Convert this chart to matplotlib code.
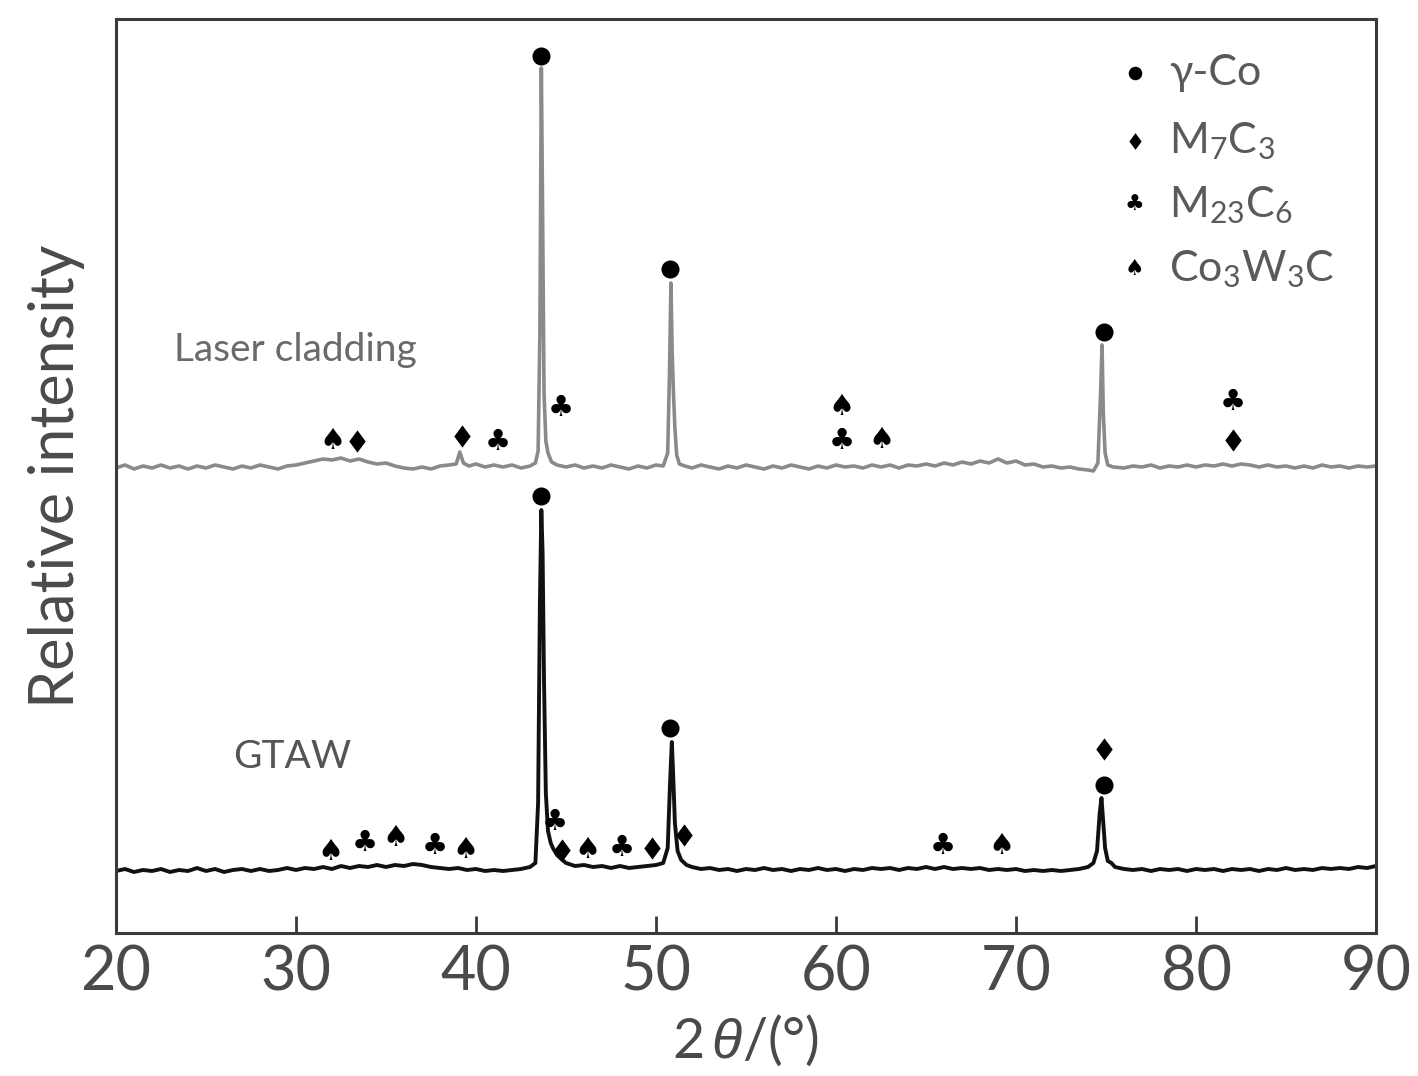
import matplotlib
matplotlib.use("Agg")
import matplotlib.pyplot as plt
from matplotlib.path import Path

# ---------------- data ----------------
laser_2theta = [20.0, 20.5, 21.0, 21.5, 22.0, 22.5, 23.0, 23.5, 24.0, 24.5, 25.0, 25.5, 26.0, 26.5,
                27.0, 27.5, 28.0, 28.5, 29.0, 29.5, 30.0, 30.5, 31.0, 31.5, 32.0, 32.5, 33.0, 33.5,
                34.0, 34.5, 35.0, 35.5, 36.0, 36.5, 37.0, 37.5, 38.0, 38.5, 38.9, 39.1, 39.3, 39.6,
                40.0, 40.5, 41.0, 41.5, 42.0, 42.5, 43.0, 43.3, 43.45, 43.55, 43.63, 43.7, 43.78,
                43.88, 44.0, 44.2, 44.5, 45.0, 45.5, 46.0, 46.5, 47.0, 47.5, 48.0, 48.5, 49.0, 49.5,
                50.0, 50.4, 50.65, 50.75, 50.83, 50.9, 50.97, 51.05, 51.15, 51.3, 51.6, 52.0, 52.5,
                53.0, 53.5, 54.0, 54.5, 55.0, 55.5, 56.0, 56.5, 57.0, 57.5, 58.0, 58.5, 59.0, 59.5,
                60.0, 60.5, 61.0, 61.5, 62.0, 62.5, 63.0, 63.5, 64.0, 64.5, 65.0, 65.5, 66.0, 66.5,
                67.0, 67.5, 68.0, 68.5, 69.0, 69.5, 70.0, 70.5, 71.0, 71.5, 72.0, 72.5, 73.0, 73.5,
                74.0, 74.3, 74.55, 74.7, 74.78, 74.85, 74.95, 75.1, 75.4, 76.0, 76.5, 77.0, 77.5,
                78.0, 78.5, 79.0, 79.5, 80.0, 80.5, 81.0, 81.5, 82.0, 82.5, 83.0, 83.5, 84.0, 84.5,
                85.0, 85.5, 86.0, 86.5, 87.0, 87.5, 88.0, 88.5, 89.0, 89.5, 90.0]
laser_int = [465, 468, 464, 467, 465, 468, 465, 467, 464, 467, 465, 468, 466, 464,
             467, 465, 468, 466, 464, 467, 468, 470, 472, 474, 473, 475, 472, 474,
             471, 469, 470, 467, 465, 464, 466, 464, 467, 468, 469, 481, 470, 467,
             469, 466, 468, 466, 468, 465, 467, 470, 482, 600, 865, 720, 540,
             492, 480, 471, 468, 466, 468, 465, 467, 465, 468, 466, 464, 467, 465,
             468, 467, 480, 560, 650, 580, 540, 505, 478, 469, 467, 465, 468,
             466, 464, 467, 465, 468, 466, 464, 467, 465, 468, 466, 464, 467, 465,
             468, 466, 467, 465, 468, 466, 468, 465, 468, 467, 469, 467, 470, 468,
             471, 469, 472, 470, 474, 470, 472, 468, 469, 466, 467, 465, 466, 464,
             463, 462, 470, 540, 588, 520, 480, 468, 466, 465, 467, 466, 468,
             465, 467, 466, 468, 466, 468, 467, 469, 467, 469, 468, 466, 468, 466,
             467, 465, 467, 465, 468, 466, 467, 465, 467, 466, 467]

gtaw_2theta = [20.0, 20.5, 21.0, 21.5, 22.0, 22.5, 23.0, 23.5, 24.0, 24.5, 25.0, 25.5, 26.0, 26.5,
               27.0, 27.5, 28.0, 28.5, 29.0, 29.5, 30.0, 30.5, 31.0, 31.5, 32.0, 32.5, 33.0, 33.5,
               34.0, 34.5, 35.0, 35.5, 36.0, 36.5, 37.0, 37.5, 38.0, 38.5, 39.0, 39.5, 40.0, 40.5,
               41.0, 41.5, 42.0, 42.5, 43.0, 43.3, 43.45, 43.55, 43.63, 43.7, 43.78, 43.88, 44.0,
               44.15, 44.3, 44.5, 44.8, 45.0, 45.5, 46.0, 46.5, 47.0, 47.5, 48.0, 48.5, 49.0, 49.5,
               50.0, 50.4, 50.65, 50.78, 50.88, 50.95, 51.05, 51.2, 51.4, 51.7, 52.0, 52.5, 53.0,
               53.5, 54.0, 54.5, 55.0, 55.5, 56.0, 56.5, 57.0, 57.5, 58.0, 58.5, 59.0, 59.5, 60.0,
               60.5, 61.0, 61.5, 62.0, 62.5, 63.0, 63.5, 64.0, 64.5, 65.0, 65.5, 66.0, 66.5, 67.0,
               67.5, 68.0, 68.5, 69.0, 69.5, 70.0, 70.5, 71.0, 71.5, 72.0, 72.5, 73.0, 73.5, 74.0,
               74.3, 74.5, 74.65, 74.75, 74.85, 74.95, 75.1, 75.3, 75.5, 76.0, 76.5, 77.0, 77.5,
               78.0, 78.5, 79.0, 79.5, 80.0, 80.5, 81.0, 81.5, 82.0, 82.5, 83.0, 83.5, 84.0, 84.5,
               85.0, 85.5, 86.0, 86.5, 87.0, 87.5, 88.0, 88.5, 89.0, 89.5, 90.0]
gtaw_int = [62, 64, 61, 63, 62, 64, 61, 63, 62, 65, 62, 64, 61, 63,
            64, 62, 64, 62, 63, 65, 63, 65, 64, 66, 64, 67, 65, 67,
            66, 68, 66, 68, 67, 69, 68, 66, 65, 64, 65, 63, 64, 62,
            63, 62, 63, 64, 66, 70, 130, 330, 423, 380, 250, 140, 102,
            90, 84, 78, 73, 70, 67, 68, 66, 67, 65, 67, 65, 66, 67,
            68, 70, 85, 150, 191, 160, 110, 82, 73, 68, 66, 64, 65,
            63, 64, 62, 64, 63, 65, 63, 64, 62, 64, 63, 65, 63, 64,
            62, 64, 63, 65, 64, 65, 63, 65, 64, 66, 64, 66, 64, 65,
            64, 65, 63, 64, 63, 64, 62, 63, 62, 63, 62, 63, 64, 66,
            70, 82, 120, 135, 110, 85, 72, 70, 66, 64, 63, 64, 62,
            64, 63, 64, 62, 64, 63, 64, 62, 64, 63, 64, 62, 64, 63,
            65, 63, 64, 63, 65, 64, 65, 64, 66, 65, 67]

# phase markers: (phase, 2theta, height)
laser_marks_phase = ['gamma', 'gamma', 'gamma', 'co3w3c', 'm7c3', 'm7c3', 'm23c6', 'm23c6',
                     'co3w3c', 'm23c6', 'co3w3c', 'm23c6', 'm7c3']
laser_marks_x = [43.6, 50.8, 74.9, 32.05, 33.4, 39.2, 41.2, 44.7, 60.3, 60.3, 62.55, 82.05, 82.05]
laser_marks_y = [877, 664, 601, 492, 492, 497, 491, 525, 526, 492, 493, 531, 493]

gtaw_marks_phase = ['gamma', 'gamma', 'gamma', 'm7c3', 'co3w3c', 'm23c6', 'co3w3c', 'm23c6',
                    'co3w3c', 'm23c6', 'm7c3', 'co3w3c', 'm23c6', 'm7c3', 'm7c3', 'm23c6', 'co3w3c']
gtaw_marks_x = [43.6, 50.8, 74.9, 74.9, 31.9, 33.8, 35.55, 37.7, 39.4, 44.4, 44.8, 46.2, 48.1,
                49.8, 51.55, 65.95, 69.2]
gtaw_marks_y = [437, 205, 148, 184, 81, 90, 95, 87, 83, 111, 83, 83, 85, 85, 98, 87, 87]

legend_phases = ['gamma', 'm7c3', 'm23c6', 'co3w3c']
legend_labels = ['γ-Co', r'M$_7$C$_3$', r'M$_{23}$C$_6$', r'Co$_3$W$_3$C']

x_ticks = [20, 30, 40, 50, 60, 70, 80, 90]

glyphs = {'m23c6': '\u2663', 'co3w3c': '\u2660'}
diamond = Path([(0, 1.15), (0.85, 0), (0, -1.15), (-0.85, 0), (0, 1.15)],
               [Path.MOVETO, Path.LINETO, Path.LINETO, Path.LINETO, Path.CLOSEPOLY])

# ---------------- figure ----------------
plt.rcParams['font.family'] = ['Lato', 'DejaVu Sans']
plt.rcParams['mathtext.fontset'] = 'custom'
plt.rcParams['mathtext.rm'] = 'Lato'
plt.rcParams['mathtext.it'] = 'Liberation Sans:italic'

TXT = '#4a4a4a'

fig = plt.figure(figsize=(14.18, 10.76), dpi=100)
ax = fig.add_axes([116 / 1418, 1 - 933 / 1076, (1376 - 116) / 1418, (933 - 19) / 1076])

ax.plot(laser_2theta, laser_int, color='#8a8a8a', lw=2.6)
ax.plot(gtaw_2theta, gtaw_int, color='#111111', lw=2.8)


def draw_mark(ph, x, y, scale=1.0):
    if ph == 'gamma':
        ax.plot([x], [y], marker='o', ms=13 * scale, color='black', mec='none', ls='none')
    elif ph == 'm7c3':
        ax.plot([x], [y], marker=diamond, ms=16 * scale, color='black', mec='none', ls='none')
    else:
        ax.text(x, y, glyphs[ph], ha='center', va='center', fontsize=21 * scale,
                family='DejaVu Sans', color='black')


for ph, x, y in zip(laser_marks_phase, laser_marks_x, laser_marks_y):
    draw_mark(ph, x, y)
for ph, x, y in zip(gtaw_marks_phase, gtaw_marks_x, gtaw_marks_y):
    draw_mark(ph, x, y)

# legend
leg_y = [860, 792, 728, 664]
for ph, lab, y in zip(legend_phases, legend_labels, leg_y):
    draw_mark(ph, 76.6, y, scale=0.75)
    ax.text(78.5, y, lab, ha='left', va='center', fontsize=31, color='#5a5a5a')

ax.text(23.2, 583, 'Laser cladding', ha='left', va='center', fontsize=28, color='#6a6a6a')
ax.text(26.5, 176, 'GTAW', ha='left', va='center', fontsize=28, color='#555555')

ax.set_xlim(20, 90)
ax.set_ylim(0, 914)
ax.set_xticks(x_ticks)
ax.set_xticklabels([str(t) for t in x_ticks])
ax.set_yticks([])
ax.tick_params(axis='x', direction='in', length=12, width=2, labelsize=44,
               pad=8, colors='#3a3a3a', labelcolor=TXT)
for sp in ax.spines.values():
    sp.set_linewidth(2.2)
    sp.set_color('#3a3a3a')

ax.set_ylabel('Relative intensity', fontsize=44, color=TXT, labelpad=22)
ax.set_xlabel(r'2$\,\theta$/(°)', fontsize=40, color=TXT, labelpad=8)

fig.savefig('out.png', dpi=100)
